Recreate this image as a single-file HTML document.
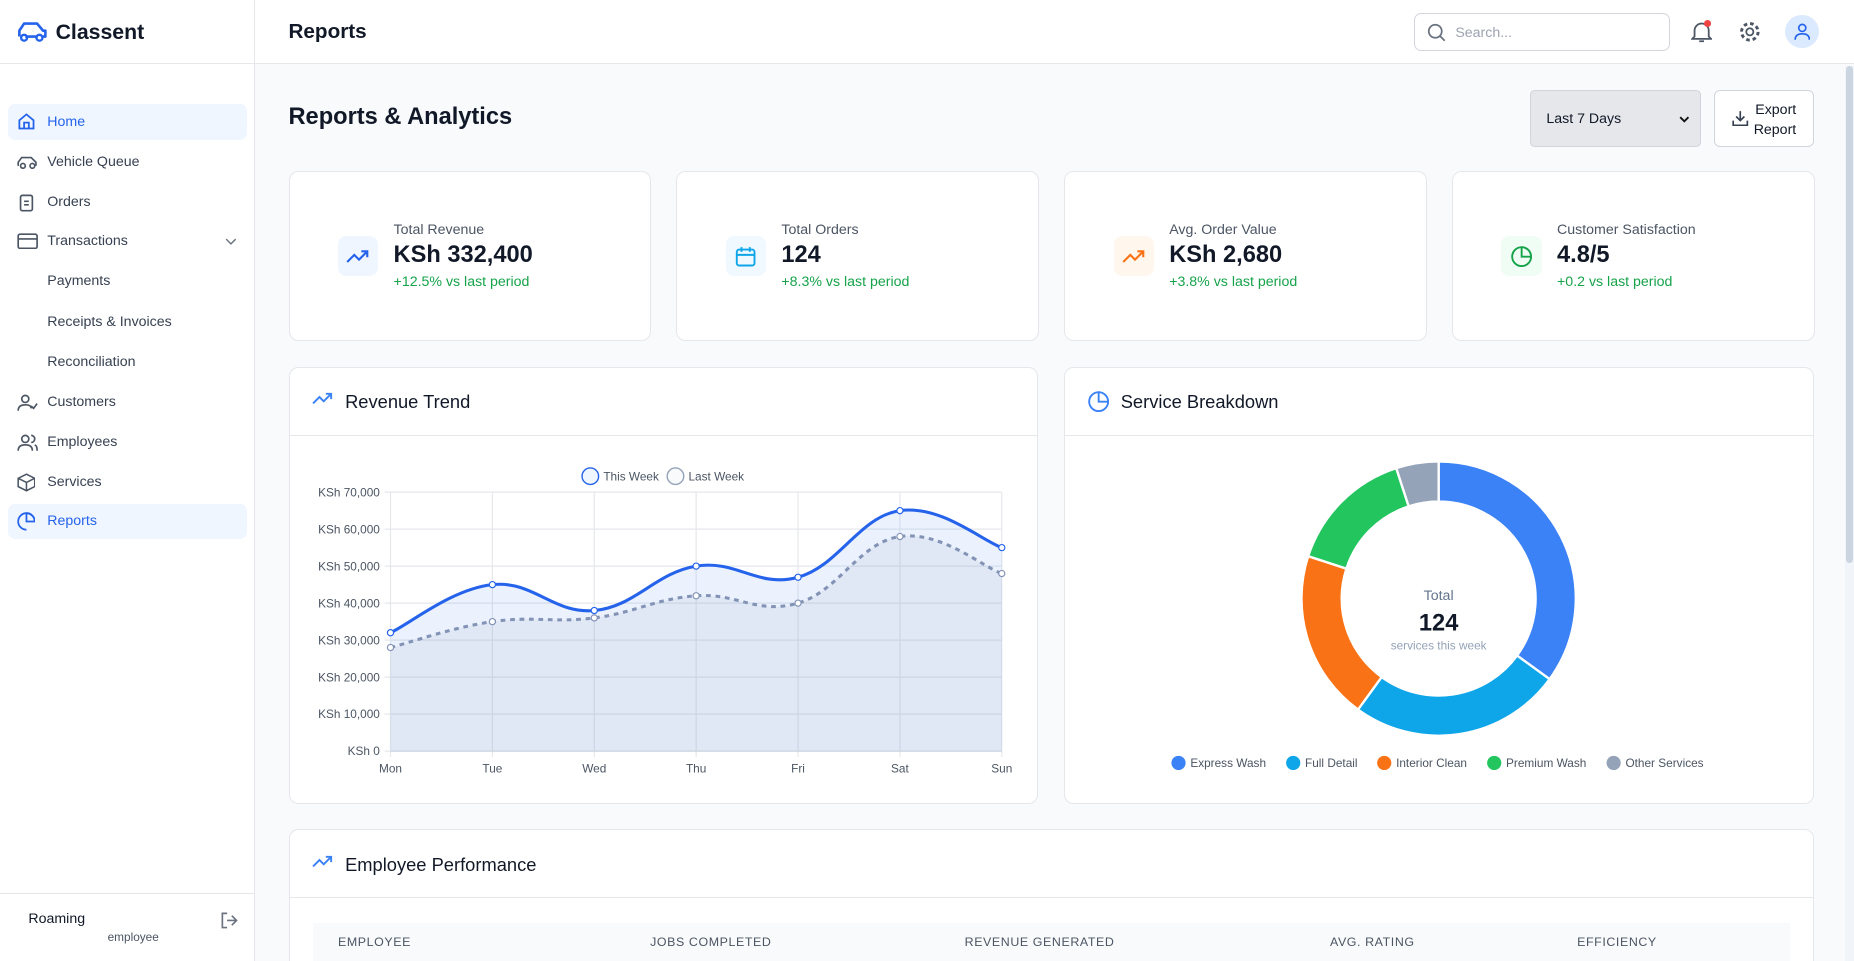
<!DOCTYPE html>
<html><head><meta charset="utf-8">
<style>
*{box-sizing:border-box;margin:0;padding:0}
html,body{width:1568px;height:813px;overflow:hidden}
body{zoom:1.18240;font-family:"Liberation Sans",sans-serif;background:#f8fafc;color:#111827;position:relative}
.abs{position:absolute}
#sidebar{left:0;top:0;width:216px;height:813px;background:#fff;border-right:1px solid #e5e7eb}
.nav{position:absolute;left:7px;width:202px;height:30px;display:flex;align-items:center;font-size:12px;color:#374151}
.nav svg{position:absolute;left:7px}
.nav span{position:absolute;left:33px}
.nav.active{background:#eff6ff;color:#2563eb;border-radius:6px}
#topbar{left:216px;top:0;right:0;height:54px;background:#fff;border-bottom:1px solid #e5e7eb}
.card{position:absolute;top:145px;width:307px;height:143px;background:#fff;border:1px solid #e5e7eb;border-radius:8px}
.card .ic{position:absolute;left:41px;top:54px;width:34px;height:34px;border-radius:7px;display:flex;align-items:center;justify-content:center}
.card .lb{position:absolute;left:88px;top:42px;font-size:12px;color:#4b5563}
.card .vl{position:absolute;left:88px;top:59px;font-size:20px;font-weight:bold;color:#111827}
.card .ch{position:absolute;left:88px;top:86px;font-size:12px;color:#16a34a}
.panel{position:absolute;background:#fff;border:1px solid #e5e7eb;border-radius:8px}
.ph{position:absolute;left:0;right:0;top:0;height:58px;border-bottom:1px solid #e5e7eb}
.ph span{position:absolute;left:47px;top:20px;font-size:15.5px;color:#111827}
.ph svg{position:absolute;left:19px;top:20px}
.th{position:absolute;top:89px;font-size:10.5px;letter-spacing:.5px;color:#4b5563}
</style></head><body>
<div id="sidebar" class="abs">
  <div class="abs" style="left:0;top:0;width:215px;height:54px;border-bottom:1px solid #e5e7eb">
    <svg class="abs" style="left:14px;top:17px" width="26" height="20" viewBox="0 0 26 20"><path d="M2 14V9l4-6h11l5 6h2v5h-2M7 14h10" fill="none" stroke="#2563eb" stroke-width="2.2" stroke-linejoin="round"/><circle cx="6" cy="15" r="2.5" fill="none" stroke="#2563eb" stroke-width="2"/><circle cx="19" cy="15" r="2.5" fill="none" stroke="#2563eb" stroke-width="2"/></svg>
    <div class="abs" style="left:47px;top:17px;font-size:18px;font-weight:bold">Classent</div>
  </div>
  <div class="nav active" style="top:88px"><svg width="16" height="16" viewBox="0 0 16 16"><path d="M2 7l6-5 6 5v7H2z M6 14v-5h4v5" fill="none" stroke="#2563eb" stroke-width="1.5"/></svg><span>Home</span></div>
  <div class="nav" style="top:122px"><svg width="18" height="14" viewBox="0 0 18 14"><path d="M1 10V7l3-4h8l4 4v3" fill="none" stroke="#4b5563" stroke-width="1.4"/><circle cx="5" cy="10" r="2" fill="none" stroke="#4b5563" stroke-width="1.4"/><circle cx="13" cy="10" r="2" fill="none" stroke="#4b5563" stroke-width="1.4"/></svg><span>Vehicle Queue</span></div>
  <div class="nav" style="top:156px"><svg width="16" height="16" viewBox="0 0 16 16"><rect x="3" y="2" width="10" height="13" rx="1.5" fill="none" stroke="#4b5563" stroke-width="1.4"/><path d="M6 7h4M6 10h4" stroke="#4b5563" stroke-width="1.4"/></svg><span>Orders</span></div>
  <div class="nav" style="top:189px"><svg width="18" height="14" viewBox="0 0 18 14"><rect x="1" y="1" width="16" height="12" rx="1.5" fill="none" stroke="#4b5563" stroke-width="1.4"/><path d="M1 5h16" stroke="#4b5563" stroke-width="1.4"/></svg><span>Transactions</span><svg style="left:183px" width="10" height="6" viewBox="0 0 10 6"><path d="M1 1l4 4 4-4" fill="none" stroke="#6b7280" stroke-width="1.2"/></svg></div>
  <div class="nav" style="top:223px"><span>Payments</span></div>
  <div class="nav" style="top:257px"><span>Receipts &amp; Invoices</span></div>
  <div class="nav" style="top:291px"><span>Reconciliation</span></div>
  <div class="nav" style="top:325px"><svg width="18" height="16" viewBox="0 0 18 16"><circle cx="7" cy="5" r="3" fill="none" stroke="#4b5563" stroke-width="1.4"/><path d="M1 15c0-4 3-5 6-5s5 1 5 3M12 11l2 2 3-4" fill="none" stroke="#4b5563" stroke-width="1.4"/></svg><span>Customers</span></div>
  <div class="nav" style="top:359px"><svg width="18" height="16" viewBox="0 0 18 16"><circle cx="7" cy="5" r="3" fill="none" stroke="#4b5563" stroke-width="1.4"/><path d="M1 15c0-4 3-5 6-5s6 1 6 5M12 2a3 3 0 010 6M15 10c2 1 2 3 2 5" fill="none" stroke="#4b5563" stroke-width="1.4"/></svg><span>Employees</span></div>
  <div class="nav" style="top:393px"><svg width="16" height="16" viewBox="0 0 16 16"><path d="M8 1l7 3.5v7L8 15l-7-3.5v-7zM1 4.5L8 8l7-3.5M8 8v7" fill="none" stroke="#4b5563" stroke-width="1.3"/></svg><span>Services</span></div>
  <div class="nav active" style="top:426px"><svg width="16" height="16" viewBox="0 0 16 16"><path d="M8 1v7h7A7 7 0 108 15" fill="none" stroke="#2563eb" stroke-width="1.5"/><path d="M8 1a7 7 0 017 7" fill="none" stroke="#2563eb" stroke-width="1.5"/></svg><span>Reports</span></div>
  <div class="abs" style="left:0;top:755px;width:215px;border-top:1px solid #e5e7eb;height:58px">
    <div class="abs" style="left:24px;top:15px;font-size:12px;color:#111827">Roaming</div>
    <div class="abs" style="left:91px;top:31px;font-size:10px;color:#4b5563">employee</div>
    <svg class="abs" style="left:186px;top:15px" width="16" height="16" viewBox="0 0 16 16"><path d="M6 2H2v12h4M10 4l4 4-4 4M14 8H6" fill="none" stroke="#6b7280" stroke-width="1.4"/></svg>
  </div>
</div>
<div id="topbar" class="abs">
  <div class="abs" style="left:28px;top:17px;font-size:17.5px;font-weight:bold">Reports</div>
  <div class="abs" style="left:980px;top:11px;width:216px;height:32px;border:1px solid #d1d5db;border-radius:6px">
    <svg class="abs" style="left:10px;top:8px" width="16" height="16" viewBox="0 0 16 16"><circle cx="7" cy="7" r="5.5" fill="none" stroke="#6b7280" stroke-width="1.5"/><path d="M11 11l4 4" stroke="#6b7280" stroke-width="1.5"/></svg>
    <span class="abs" style="left:34px;top:9px;font-size:12px;color:#9ca3af">Search...</span>
  </div>
  <svg class="abs" style="left:1214px;top:17px" width="18" height="20" viewBox="0 0 18 20"><path d="M3 14V9a6 6 0 0112 0v5l2 2H1zM7 18h4" fill="none" stroke="#4b5563" stroke-width="1.5"/><circle cx="14" cy="3" r="3" fill="#ef4444"/></svg>
  <svg class="abs" style="left:1254px;top:17px" width="20" height="20" viewBox="0 0 20 20"><circle cx="10" cy="10" r="3" fill="none" stroke="#4b5563" stroke-width="1.5"/><circle cx="10" cy="10" r="7" fill="none" stroke="#4b5563" stroke-width="2.5" stroke-dasharray="3 2.5"/></svg>
  <div class="abs" style="left:1294px;top:13px;width:28px;height:28px;border-radius:50%;background:#dbeafe"><svg class="abs" style="left:7px;top:6px" width="14" height="16" viewBox="0 0 14 16"><circle cx="7" cy="5" r="3" fill="none" stroke="#2563eb" stroke-width="1.4"/><path d="M1 15c0-4 3-5 6-5s6 1 6 5" fill="none" stroke="#2563eb" stroke-width="1.4"/></svg></div>
</div>
<div class="abs" style="left:1560px;top:56px;width:8px;height:757px;background:#f1f5f9"><div style="margin:0 1px;height:420px;background:#cbd5e1;border-radius:4px"></div></div>

<div class="abs" style="left:244px;top:88px;font-size:20px;font-weight:bold">Reports &amp; Analytics</div>
<div class="abs" style="left:1294px;top:76px;width:145px;height:48px;background:#e5e7eb;border:1px solid #d1d5db;border-radius:4px;font-size:12px;padding:17px 0 0 13px">Last 7 Days<svg class="abs" style="left:125px;top:21px" width="9" height="6" viewBox="0 0 9 6"><path d="M1 1l3.5 3.5L8 1" fill="none" stroke="#111" stroke-width="1.6"/></svg></div>
<div class="abs" style="left:1450px;top:76px;width:84px;height:48px;background:#fff;border:1px solid #d1d5db;border-radius:5px;font-size:12px;text-align:right;padding:8px 14px 0 0;line-height:17px">Export<br>Report<svg class="abs" style="left:14px;top:16px" width="14" height="14" viewBox="0 0 14 14"><path d="M7 1v8M3.5 5.5L7 9l3.5-3.5M1 9v4h12V9" fill="none" stroke="#374151" stroke-width="1.4"/></svg></div>

<div class="card" style="left:244px"><div class="ic" style="background:#eff6ff"><svg width="20" height="12" viewBox="0 0 20 12"><path d="M1 11l6-6 4 4 7-7M13 2h5v5" fill="none" stroke="#2563eb" stroke-width="1.8"/></svg></div><div class="lb">Total Revenue</div><div class="vl">KSh 332,400</div><div class="ch">+12.5% vs last period</div></div>
<div class="card" style="left:572px"><div class="ic" style="background:#f0f9ff"><svg width="18" height="18" viewBox="0 0 18 18"><rect x="1.5" y="3" width="15" height="13.5" rx="2" fill="none" stroke="#0ea5e9" stroke-width="1.6"/><path d="M1.5 7.5h15M5.5 1v4M12.5 1v4" stroke="#0ea5e9" stroke-width="1.6"/></svg></div><div class="lb">Total Orders</div><div class="vl">124</div><div class="ch">+8.3% vs last period</div></div>
<div class="card" style="left:900px"><div class="ic" style="background:#fff7ed"><svg width="20" height="12" viewBox="0 0 20 12"><path d="M1 11l6-6 4 4 7-7M13 2h5v5" fill="none" stroke="#f97316" stroke-width="1.8"/></svg></div><div class="lb">Avg. Order Value</div><div class="vl">KSh 2,680</div><div class="ch">+3.8% vs last period</div></div>
<div class="card" style="left:1228px"><div class="ic" style="background:#f0fdf4"><svg width="18" height="18" viewBox="0 0 18 18"><path d="M9 1v8h8A8 8 0 119 1z" fill="none" stroke="#16a34a" stroke-width="1.6"/><path d="M9 1a8 8 0 018 8" fill="none" stroke="#16a34a" stroke-width="1.6"/></svg></div><div class="lb">Customer Satisfaction</div><div class="vl">4.8/5</div><div class="ch">+0.2 vs last period</div></div>

<div class="panel" style="left:244px;top:310px;width:634px;height:370px">
  <div class="ph"><svg width="18" height="12" viewBox="0 0 20 12"><path d="M1 11l6-6 4 4 7-7M13 2h5v5" fill="none" stroke="#3b82f6" stroke-width="1.8"/></svg><span>Revenue Trend</span></div>
  <svg id="line" class="abs" style="left:0;top:0" width="634" height="370"></svg>
</div>
<div class="panel" style="left:900px;top:310px;width:634px;height:370px">
  <div class="ph"><svg width="18" height="18" viewBox="0 0 18 18"><path d="M9 1v8h8A8 8 0 119 1z" fill="none" stroke="#3b82f6" stroke-width="1.6"/><path d="M9 1a8 8 0 018 8" fill="none" stroke="#3b82f6" stroke-width="1.6"/></svg><span>Service Breakdown</span></div>
  <svg id="donut" class="abs" style="left:0;top:0" width="634" height="370"></svg>
</div>
<div class="panel" style="left:244px;top:701px;width:1290px;height:140px">
  <div class="ph"><svg width="18" height="12" viewBox="0 0 20 12"><path d="M1 11l6-6 4 4 7-7M13 2h5v5" fill="none" stroke="#3b82f6" stroke-width="1.8"/></svg><span>Employee Performance</span></div>
  <div class="abs" style="left:20px;top:79px;width:1249px;height:40px;background:#f9fafb"></div>
  <div class="th" style="left:41px">EMPLOYEE</div>
  <div class="th" style="left:305px">JOBS COMPLETED</div>
  <div class="th" style="left:571px">REVENUE GENERATED</div>
  <div class="th" style="left:880px">AVG. RATING</div>
  <div class="th" style="left:1089px">EFFICIENCY</div>
</div>

<script>
const days=["Mon","Tue","Wed","Thu","Fri","Sat","Sun"];
const thisWeek=[32000,45000,38000,50000,47000,65000,55000];
const lastWeek=[28000,35000,36000,42000,40000,58000,48000];
const yTicks=[0,10000,20000,30000,40000,50000,60000,70000];
const services=["Express Wash","Full Detail","Interior Clean","Premium Wash","Other Services"];
const serviceShare=[35,25,20,15,5];
const serviceColors=["#3b82f6","#0ea5e9","#f97316","#22c55e","#94a3b8"];

const NS="http://www.w3.org/2000/svg";
function mk(p,t,a){const e=document.createElementNS(NS,t);for(const k in a)e.setAttribute(k,a[k]);p.appendChild(e);return e;}
(function(){
 const svg=document.getElementById('line');
 const x0=85,x1=602,yTop=105,yBot=324,ymax=70000;
 const X=i=>x0+(x1-x0)*i/(days.length-1);
 const Y=v=>yBot-(yBot-yTop)*v/ymax;
 yTicks.forEach(t=>{
  const l=mk(svg,'line',{x1:x0-5,x2:x1,y1:Y(t),y2:Y(t),stroke:'#e5e7eb'});
  
  const tx=mk(svg,'text',{x:x0-9,y:Y(t)+3.5,'text-anchor':'end','font-size':'10',fill:'#4b5563'});
  tx.textContent='KSh '+t.toLocaleString('en-US');
  
 });
 days.forEach((d,i)=>{
  const l=mk(svg,'line',{x1:X(i),x2:X(i),y1:yTop,y2:yBot+5,stroke:'#e5e7eb'});
  
  const tx=mk(svg,'text',{x:X(i),y:yBot+18,'text-anchor':'middle','font-size':'10',fill:'#4b5563'});
  tx.textContent=d;
  
 });
 function path(vals){
  const p=vals.map((v,i)=>[X(i),Y(v)]);const t=0.4;
  let d='M'+p[0][0]+','+p[0][1];
  for(let i=0;i<p.length-1;i++){
   const a=p[i-1]||p[i],b=p[i],c=p[i+1],e=p[i+2]||c;
   const c1=[b[0]+(c[0]-a[0])*t/2,b[1]+(c[1]-a[1])*t/2];
   const c2=[c[0]-(e[0]-b[0])*t/2,c[1]-(e[1]-b[1])*t/2];
   d+=` C${c1[0]},${c1[1]} ${c2[0]},${c2[1]} ${c[0]},${c[1]}`;
  }
  return d;
 }
 [[thisWeek,'#2563eb','rgba(59,130,246,0.1)','','this-week'],[lastWeek,'#8293b5','rgba(148,163,184,0.12)','4 4','last-week']].forEach(([vals,col,fill,dash,nm])=>{
  const d=path(vals);
  const a=mk(svg,'path',{d:d+` L${X(vals.length-1)},${yBot} L${X(0)},${yBot} Z`,fill:fill});
  
  const l=mk(svg,'path',{d:d,fill:'none',stroke:col,'stroke-width':'2.6','stroke-dasharray':dash});
  
  vals.forEach((v,i)=>{const c=mk(svg,'circle',{cx:X(i),cy:Y(v),r:2.6,fill:'#fff',stroke:col,'stroke-width':'1'});
   });
 });
 mk(svg,'line',{x1:x0,x2:x1,y1:yBot,y2:yBot,stroke:'#cbd5e1'});
 [['This Week',254,'#2563eb','#eff6ff'],['Last Week',326,'#94a3b8','#f8fafc']].forEach(([t,x,c,f])=>{
  const g=mk(svg,'g',{});
  mk(g,'circle',{cx:x,cy:91.5,r:7,fill:f,stroke:c,'stroke-width':'1.2'});
  const tx=mk(g,'text',{x:x+11,y:95,'font-size':'10',fill:'#4b5563'});tx.textContent=t;
 });
})();
(function(){
 const svg=document.getElementById('donut');
 const cx=316,cy=195,R=116,r=82;
 const tot=serviceShare.reduce((a,b)=>a+b,0);let a0=0;
 serviceShare.forEach((v,i)=>{
  const a1=a0+v/tot*2*Math.PI;
  const P=(rad,a)=>[cx+rad*Math.sin(a),cy-rad*Math.cos(a)];
  const [x1,y1]=P(R,a0),[x2,y2]=P(R,a1),[x3,y3]=P(r,a1),[x4,y4]=P(r,a0);
  const lg=(a1-a0)>Math.PI?1:0;
  const s=mk(svg,'path',{d:`M${x1},${y1} A${R},${R} 0 ${lg} 1 ${x2},${y2} L${x3},${y3} A${r},${r} 0 ${lg} 0 ${x4},${y4} Z`,fill:serviceColors[i],stroke:'#fff','stroke-width':'2'});
  
  
  a0=a1;
 });
 const t1=mk(svg,'text',{x:cx,y:cy+1,'text-anchor':'middle','font-size':'12',fill:'#64748b'});t1.textContent='Total';
 
 const t2=mk(svg,'text',{x:cx,y:cy+27,'text-anchor':'middle','font-size':'20','font-weight':'bold',fill:'#111827'});t2.textContent='124';
 
 const t3=mk(svg,'text',{x:cx,y:cy+43,'text-anchor':'middle','font-size':'10',fill:'#94a3b8'});t3.textContent='services this week';
 
 const lx=[96,193,270,363,464];
 services.forEach((s,i)=>{
  const g=mk(svg,'g',{});
  
  
  mk(g,'circle',{cx:lx[i],cy:334,r:6,fill:serviceColors[i]});
  const tx=mk(g,'text',{x:lx[i]+10,y:337.5,'font-size':'10',fill:'#4b5563'});tx.textContent=s;
 });
})();
</script>
</body></html>
